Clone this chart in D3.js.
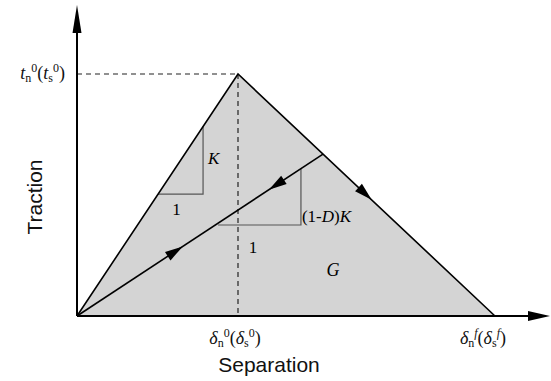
<!DOCTYPE html>
<html>
<head>
<meta charset="utf-8">
<script src="https://cdn.jsdelivr.net/npm/d3@7"></script>
<style>
  body { margin: 0; background: #fff; }
  .serif { font-family: "Liberation Serif", "DejaVu Serif", serif; }
  .sans { font-family: "Liberation Sans", Arial, sans-serif; }
</style>
</head>
<body>
<svg id="chart" width="551" height="381"></svg>
<script>
// traction-separation law, normalised units (peak = 1, 1)
var origin = [0, 0];
var peak = [1, 1];                  // delta0, t0
var failure = [2.596, 0];           // deltaf
var unload = [1.528, 0.669];        // point of unloading on softening branch
var stiffTri = [0.503, 0.783, 0.504]; // x0, x1, y (K triangle on loading line)
var damTri = [0.876, 1.391, 0.376];   // x0, x1, y ((1-D)K triangle)
var arrowAt = [0.43, 0.22, 0.52];   // fraction along: loading, unloading, softening

var svg = d3.select("#chart");

var x = d3.scaleLinear().domain([0, 1]).range([77, 238]);
var y = d3.scaleLinear().domain([0, 1]).range([316, 74]);

function pt(p) { return [x(p[0]), y(p[1])]; }
function lerp(a, b, t) { return [a[0] + (b[0] - a[0]) * t, a[1] + (b[1] - a[1]) * t]; }

// filled area
svg.append("path")
    .attr("d", d3.line()([origin, peak, failure].map(pt)) + "Z")
    .attr("fill", "#d4d4d4")
    .attr("stroke", "none");

// dashed guides
svg.append("line")
    .attr("x1", x(0)).attr("y1", y(peak[1]))
    .attr("x2", x(peak[0])).attr("y2", y(peak[1]))
    .attr("stroke", "#222").attr("stroke-width", 1.2).attr("stroke-dasharray", "5,4");
svg.append("line")
    .attr("x1", x(peak[0])).attr("y1", y(peak[1]))
    .attr("x2", x(peak[0])).attr("y2", y(0))
    .attr("stroke", "#222").attr("stroke-width", 1.2).attr("stroke-dasharray", "5,4");

// small slope triangles
var kSlope = peak[1] / peak[0];
var dSlope = unload[1] / unload[0];
svg.append("path")
    .attr("d", "M" + pt([stiffTri[0], stiffTri[2]]) + "L" + pt([stiffTri[1], stiffTri[2]]) +
        "L" + pt([stiffTri[1], stiffTri[1] * kSlope]))
    .attr("fill", "none").attr("stroke", "#555").attr("stroke-width", 1.2);
svg.append("path")
    .attr("d", "M" + pt([damTri[0], damTri[2]]) + "L" + pt([damTri[1], damTri[2]]) +
        "L" + pt([damTri[1], damTri[1] * dSlope]))
    .attr("fill", "none").attr("stroke", "#555").attr("stroke-width", 1.2);

// main curves
svg.append("path")
    .attr("d", d3.line()([origin, peak, failure].map(pt)))
    .attr("fill", "none").attr("stroke", "#000").attr("stroke-width", 1.6)
    .attr("stroke-linejoin", "miter");
svg.append("path")
    .attr("d", d3.line()([origin, unload].map(pt)))
    .attr("fill", "none").attr("stroke", "#000").attr("stroke-width", 1.6);

// arrowheads on curves
function arrowHead(tip, dir, len, wid) {
    var a = Math.atan2(dir[1], dir[0]);
    var bx = tip[0] - len * Math.cos(a), by = tip[1] - len * Math.sin(a);
    var nx = -Math.sin(a) * wid / 2, ny = Math.cos(a) * wid / 2;
    svg.append("path")
        .attr("d", "M" + tip + "L" + [bx + nx, by + ny] + "L" + [bx - nx, by - ny] + "Z")
        .attr("fill", "#000");
}
function segArrow(a, b, t) {
    var pa = pt(a), pb = pt(b);
    arrowHead(lerp(pa, pb, t), [pb[0] - pa[0], pb[1] - pa[1]], 18, 10);
}
segArrow(origin, unload, arrowAt[0]);
segArrow(unload, origin, arrowAt[1]);
segArrow(peak, failure, arrowAt[2]);

// axes
svg.append("line")
    .attr("x1", x(0)).attr("y1", y(0)).attr("x2", x(0)).attr("y2", 20)
    .attr("stroke", "#000").attr("stroke-width", 2);
arrowHead([x(0), 5], [0, -1], 28, 9);
svg.append("line")
    .attr("x1", x(0)).attr("y1", y(0)).attr("x2", 535).attr("y2", y(0))
    .attr("stroke", "#000").attr("stroke-width", 2);
arrowHead([550, y(0)], [1, 0], 22, 10);

// labels
function mathLabel(px, py, anchor, parts) {
    var t = svg.append("text").attr("class", "serif")
        .attr("x", px).attr("y", py).attr("text-anchor", anchor)
        .attr("font-size", 18).attr("fill", "#111");
    parts.forEach(function(p) {
        var s = t.append("tspan").text(p.t);
        if (p.i) s.attr("font-style", "italic");
        if (p.sub) s.attr("font-size", 12).attr("dy", 3);
        if (p.sup) s.attr("font-size", 12).attr("dy", -10);
        if (p.back) s.attr("dy", p.back);
    });
    return t;
}
var tLabel = [
    {t: "t", i: true}, {t: "n", sub: true}, {t: "0", sup: true}, {t: "(", back: 7},
    {t: "t", i: true}, {t: "s", sub: true}, {t: "0", sup: true}, {t: ")", back: 7}
];
mathLabel(65, 79, "end", tLabel);
var d0Label = [
    {t: "δ", i: true}, {t: "n", sub: true}, {t: "0", sup: true}, {t: "(", back: 7},
    {t: "δ", i: true}, {t: "s", sub: true}, {t: "0", sup: true}, {t: ")", back: 7}
];
mathLabel(x(peak[0]) - 3, 344, "middle", d0Label);
var dfLabel = [
    {t: "δ", i: true}, {t: "n", sub: true}, {t: "f", sup: true, i: true}, {t: "(", back: 7},
    {t: "δ", i: true}, {t: "s", sub: true}, {t: "f", sup: true, i: true}, {t: ")", back: 7}
];
mathLabel(x(failure[0]) - 12, 344, "middle", dfLabel);

svg.append("text").attr("class", "serif").attr("x", x(stiffTri[1]) + 5).attr("y", 164)
    .attr("font-size", 17).attr("font-style", "italic").text("K");
svg.append("text").attr("class", "serif").attr("x", x((stiffTri[0] + stiffTri[1]) / 2) - 4).attr("y", 215)
    .attr("font-size", 17).attr("text-anchor", "middle").text("1");
var dk = svg.append("text").attr("class", "serif").attr("x", x(damTri[1]) + 1).attr("y", 222)
    .attr("font-size", 17);
dk.append("tspan").text("(1-");
dk.append("tspan").attr("font-style", "italic").text("D");
dk.append("tspan").text(")");
dk.append("tspan").attr("font-style", "italic").text("K");
svg.append("text").attr("class", "serif").attr("x", 253).attr("y", 253)
    .attr("font-size", 17).attr("text-anchor", "middle").text("1");
svg.append("text").attr("class", "serif").attr("x", 333).attr("y", 276)
    .attr("font-size", 18).attr("font-style", "italic").attr("text-anchor", "middle").text("G");

svg.append("text").attr("class", "sans").attr("x", 269).attr("y", 372)
    .attr("font-size", 21).attr("text-anchor", "middle").attr("fill", "#111").text("Separation");
svg.append("text").attr("class", "sans")
    .attr("transform", "translate(42,197) rotate(-90)")
    .attr("font-size", 21).attr("text-anchor", "middle").attr("fill", "#111").text("Traction");
</script>
</body>
</html>
